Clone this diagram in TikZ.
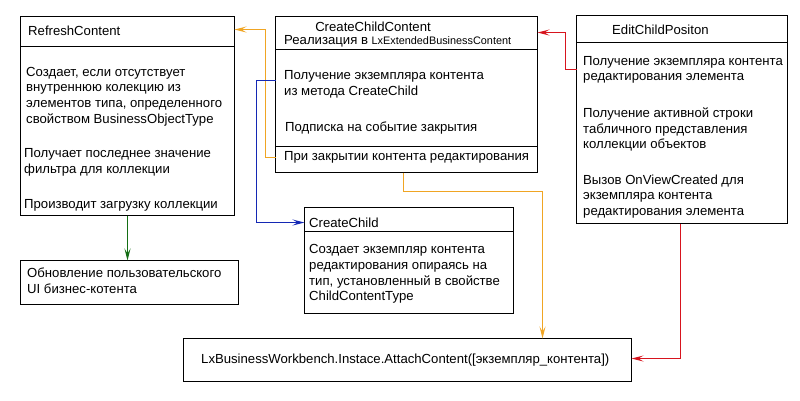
\documentclass[tikz,border=0pt]{standalone}
\usepackage{fontspec}
\setmainfont{Liberation Sans}
\usetikzlibrary{arrows.meta,positioning,calc}
\definecolor{lineorange}{RGB}{240,165,35}
\definecolor{lineblue}{RGB}{20,40,180}
\definecolor{linegreen}{RGB}{20,110,20}
\definecolor{linered}{RGB}{215,20,30}
\tikzset{box/.style={draw, line width=1bp, anchor=north west, inner sep=0, outer sep=0}}
\tikzset{txt/.style={anchor=west, align=left, inner sep=0, font=\fontsize{13.2}{15.7}\selectfont}}
\tikzset{arr/.style={draw, line width=1.1bp, -{Stealth[length=12bp, width=6bp, inset=5bp]}}}
\newcommand{\smallname}[1]{{\fontsize{10.9}{12}\selectfont #1}}

\begin{document}
\begin{tikzpicture}[x=1bp, y={(0bp,-1bp)}]
			\useasboundingbox (0,0) rectangle (800,400);
			
			% boxes
			\node[box, minimum width=214bp, minimum height=199bp] (rc) at (20.5,16.5){};
			\node[box, minimum width=262bp, minimum height=156bp] (ccc) at (275.5,16.5){};
			\node[box, minimum width=211bp, minimum height=208bp] (ec) at (576.5,15.5){};
			\node[box, minimum width=209bp, minimum height=106bp] (cc) at (304.5,207.5){};
			\node[box, minimum width=218bp, minimum height=44bp] (upd) at (20.5,260.5){};
			\node[box, minimum width=448bp, minimum height=43bp] (attach) at (183.5,338.5){};
			
			\draw[line width=1bp] ([yshift=-30bp]rc.north west) -- ([yshift=-30bp]rc.north east);
			\draw[line width=1bp] ([yshift=-33bp]ccc.north west) -- ([yshift=-33bp]ccc.north east);
			\draw[line width=1bp] ([yshift=-130bp]ccc.north west) -- ([yshift=-130bp]ccc.north east);
			\draw[line width=1bp] ([yshift=-27bp]ec.north west) -- ([yshift=-27bp]ec.north east);
			\draw[line width=1bp] ([yshift=-24bp]cc.north west) -- ([yshift=-24bp]cc.north east);
			
			% RefreshContent
			\node[txt] (rchead) at (28,31){RefreshContent};
			\node[txt] (rccreate) at (26,96.5){Создает, если отсутствует\\внутреннюю колекцию из\\элементов типа, определенного\\свойством BusinessObjectType};
			\node[txt] (rcfilter) at (24,162.5){Получает последнее значение\\фильтра для коллекции};
			\node[txt] (rcload) at (24,205){Производит загрузку коллекции};
			
			% CreateChildContent
			\node[txt, anchor=center] (ccchead) at (373,27){CreateChildContent};
			\node[txt] (cccimpl) at (284,41){Реализация в \smallname{LxExtendedBusinessContent}};
			\node[txt] (cccget) at (284,84.5){Получение экземпляра контента\\из метода CreateChild};
			\node[txt] (cccsub) at (285,128){Подписка на событие закрытия};
			\node[txt] (cccclose) at (284,157.5){При закрытии контента редактирования};
			
			% EditChildPositon
			\node[txt] (echead) at (612,30){EditChildPositon};
			\node[txt] (ecget) at (583,70){Получение экземпляра контента\\редактирования элемента};
			\node[txt] (ecrow) at (583,129.5){Получение активной строки\\табличного представления\\коллекции объектов};
			\node[txt] (eccall) at (583,196.5){Вызов OnViewCreated для\\экземпляра контента\\редактирования элемента};
			
			% CreateChild
			\node[txt] (cchead) at (309,222.5){CreateChild};
			\node[txt] (ccmake) at (309,274){Создает экземпляр контента\\редактирования опираясь на\\тип, установленный в свойстве\\ChildContentType};
			
			\node[txt] (updtext) at (27,280.5){Обновление пользовательского\\UI бизнес-котента};
			\node[txt] (attachtext) at (201,360){LxBusinessWorkbench.Instace.AttachContent([экземпляр\_контента])};
			
			% connectors
			\draw[arr, linegreen] (rc.south) -- (rc.south |- upd.north);
			\draw[arr, lineorange] (ccc.west |- cccclose) -- ++(-10,0) |- ($(rc.east |- rchead)+(0,-1.5)$);
			\draw[arr, lineblue] ($(ccc.west |- cccget)+(0,-4)$) -- ++(-19,0) |- (cc.west |- cchead);
			\draw[arr, lineorange] ([xshift=-3bp]ccc.south) -- ++(0,19) -| ([xshift=135bp]attach.north);
			\draw[arr, linered] ($(ec.west |- ecget)+(0,-0.5)$) -- ++(-11,0) |- ([yshift=-16bp]ccc.north east);
			\draw[arr, linered] ([xshift=-1.5bp]ec.south) |- ([yshift=1.5bp]attach.east);
		\end{tikzpicture}
\end{document}
